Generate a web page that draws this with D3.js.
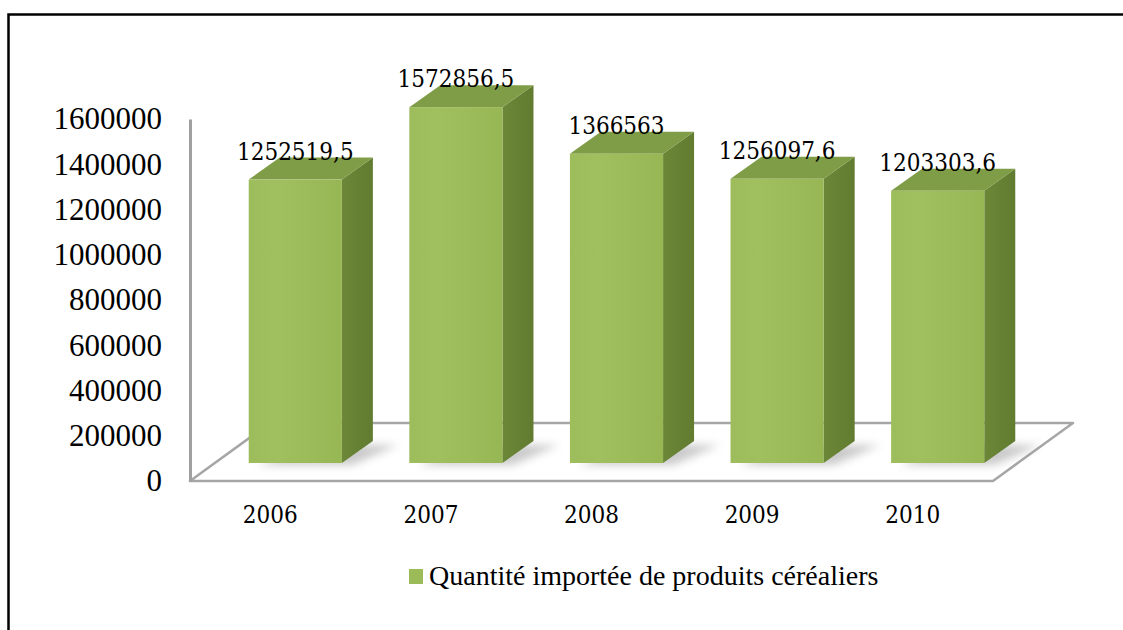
<!DOCTYPE html>
<html><head><meta charset="utf-8">
<script src="https://cdn.jsdelivr.net/npm/d3@7"></script>
<style>
body{margin:0;background:#fff;}
svg{display:block;}
</style></head>
<body>
<svg id="chart" width="1123" height="630"></svg>
<script>
const categories = ["2006","2007","2008","2009","2010"];
const values = [1252519.5, 1572856.5, 1366563, 1256097.6, 1203303.6];
const valueLabels = ["1252519,5","1572856,5","1366563","1256097,6","1203303,6"];
const yTicks = [0,200000,400000,600000,800000,1000000,1200000,1400000,1600000];
const seriesName = "Quantité importée de produits céréaliers";

const svg = d3.select("#chart");
const serifTimes = '"Liberation Serif"';
const serifCentury = '"DejaVu Serif Condensed"';

// frame
svg.append("rect").attr("x",8.5).attr("y",14.5).attr("width",1300).attr("height",800)
  .attr("fill","none").attr("stroke","#000").attr("stroke-width",2.5);

const defs = svg.append("defs");
const gFront = defs.append("linearGradient").attr("id","gFront").attr("x1","0").attr("x2","1").attr("y1","0").attr("y2","0");
gFront.append("stop").attr("offset","0").attr("stop-color","#9DBC5B");
gFront.append("stop").attr("offset","0.3").attr("stop-color","#A0BF5E");
gFront.append("stop").attr("offset","1").attr("stop-color","#97B654");
const gSide = defs.append("linearGradient").attr("id","gSide").attr("x1","0").attr("x2","1").attr("y1","0").attr("y2","0");
gSide.append("stop").attr("offset","0").attr("stop-color","#6C8737");
gSide.append("stop").attr("offset","1").attr("stop-color","#617B30");
const blur = defs.append("filter").attr("id","blur").attr("x","-50%").attr("y","-50%").attr("width","200%").attr("height","200%");
blur.append("feGaussianBlur").attr("stdDeviation",4);

// scales
const floorFront = 481, floorLeft = 190, floorRight = 993;
const depthDx = 80, depthDy = 58;
const x = d3.scaleBand().domain(categories).range([floorLeft, floorRight]).paddingInner(0.42).paddingOuter(0.21);
const y = d3.scaleLinear().domain([0,1600000]).range([floorFront, 119]);
const barOffX = 25, barOffY = 18;  // bar position in depth
const bdx = 31, bdy = 22;          // bar depth

// floor
const floorPts = [[floorLeft,floorFront],[floorRight,floorFront],[floorRight+depthDx,floorFront-depthDy],[floorLeft+depthDx,floorFront-depthDy]];
svg.append("polygon").attr("points",floorPts.map(p=>p.join(",")).join(" "))
  .attr("fill","#fff").attr("stroke","#A6A6A6").attr("stroke-width",2.5).attr("stroke-linejoin","round");

// y axis
const yAxis = d3.axisLeft(y).tickValues(yTicks).tickSize(0).tickSizeOuter(0).tickPadding(28).tickFormat(d3.format("d"));
const ya = svg.append("g").attr("transform",`translate(${floorLeft},0)`).call(yAxis);
ya.attr("font-family",null).attr("font-size",null);
ya.select(".domain").attr("stroke","#A0A0A0").attr("stroke-width",3);
ya.selectAll("text").style("font-family",serifTimes).style("font-size","31px").attr("fill","#000");

// bars
const bars = svg.append("g");
categories.forEach((c,i)=>{
  const x0 = x(c) + barOffX, x1 = x0 + x.bandwidth();
  const yb = y(0) - barOffY, yt = y(values[i]) - barOffY;
  // shadow
  bars.append("polygon")
    .attr("points",[[x0+10,yb+2],[x1+10,yb+2],[x1+bdx+25,yb-bdy+4],[x0+bdx+20,yb-bdy+4]].map(p=>p.join(",")).join(" "))
    .attr("fill","#8a8a8a").attr("opacity",0.45).attr("filter","url(#blur)");
  // side
  bars.append("polygon")
    .attr("points",[[x1,yb],[x1+bdx,yb-bdy],[x1+bdx,yt-bdy],[x1,yt]].map(p=>p.join(",")).join(" "))
    .attr("fill","url(#gSide)");
  // top
  bars.append("polygon")
    .attr("points",[[x0,yt],[x1,yt],[x1+bdx,yt-bdy],[x0+bdx,yt-bdy]].map(p=>p.join(",")).join(" "))
    .attr("fill","#7F9C46");
  // front
  bars.append("rect").attr("x",x0).attr("y",yt).attr("width",x.bandwidth()).attr("height",yb-yt)
    .attr("fill","url(#gFront)");
  // value label
  bars.append("text").attr("x",(x0+x1)/2).attr("y",yt-20).attr("text-anchor","middle")
    .style("font-family",serifCentury).style("font-size","24px").attr("fill","#000").text(valueLabels[i]);
});

// x axis labels
const xa = svg.append("g").attr("transform",`translate(0,${floorFront})`)
  .call(d3.axisBottom(x).tickSize(0).tickSizeOuter(0).tickPadding(24));
xa.attr("font-family",null).attr("font-size",null);
xa.select(".domain").remove();
xa.selectAll("text").attr("dy",null).attr("y",42)
  .style("font-family",serifCentury).style("font-size","24px").attr("fill","#000");

// legend
const lg = svg.append("g");
lg.append("rect").attr("x",409).attr("y",569).attr("width",14).attr("height",15).attr("fill","#9BBB59");
lg.append("text").attr("x",429).attr("y",585).style("font-family",serifTimes)
  .style("font-size","28px").attr("fill","#000").text(seriesName);
</script>
</body></html>
